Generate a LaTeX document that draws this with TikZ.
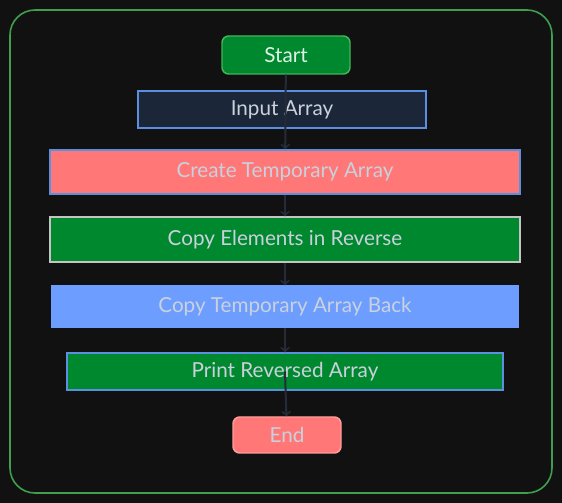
\documentclass[tikz,border=0pt]{standalone}
\usepackage{fontspec}
\setmainfont{Lato}
\usepackage{tikz}

\definecolor{bgdark}{HTML}{111111}
\definecolor{framegreen}{HTML}{3F9F4F}
\definecolor{boxgreen}{HTML}{00882F}
\definecolor{startedge}{HTML}{45B55A}
\definecolor{navy}{HTML}{1B2638}
\definecolor{edgeblue}{HTML}{5B8FE0}
\definecolor{salmon}{HTML}{FF7777}
\definecolor{salmonedge}{HTML}{FF9C9C}
\definecolor{skyblue}{HTML}{6D9EFF}
\definecolor{edgegrey}{HTML}{C4C4C4}
\definecolor{textgrey}{HTML}{C9D1DC}
\definecolor{linkdark}{HTML}{252B38}

\begin{document}
\begin{tikzpicture}[x=0.75pt, y=-0.75pt,
	box/.style={draw, line width=1.1pt, text=textgrey, inner sep=0pt,
		font=\fontsize{15.5}{18}\selectfont},
	link/.style={->, draw=linkdark, line width=1.5pt}]

	% ---- background and frame

	\fill[bgdark] (0,0) rectangle (562,503);
	\draw[framegreen, line width=1.2pt, rounded corners=18.75pt] (10,10) rectangle (552,493);

	% ---- nodes

	\node[box, fill=boxgreen, draw=startedge, rounded corners=5pt, text=white!88!boxgreen,
		minimum width=96pt, minimum height=28.5pt] (start) at (286,55) {Start};
	\node[box, fill=navy, draw=edgeblue,
		minimum width=216pt, minimum height=27.75pt] (input) at (282,109.5) {Input Array};
	\node[box, fill=salmon, draw=edgeblue,
		minimum width=352.5pt, minimum height=33pt] (create) at (285,172) {Create Temporary Array};
	\node[box, fill=boxgreen, draw=edgegrey,
		minimum width=352.5pt, minimum height=33.75pt] (copyrev) at (285,239.5) {Copy Elements in Reverse};
	\node[box, fill=skyblue, draw=skyblue,
		minimum width=349.5pt, minimum height=30.75pt] (copyback) at (285,306.5) {Copy Temporary Array Back};
	\node[box, fill=boxgreen, draw=edgeblue,
		minimum width=327pt, minimum height=27.75pt] (print) at (285,371.5) {Print Reversed Array};
	\node[box, fill=salmon, draw=salmonedge, rounded corners=5pt,
		minimum width=81pt, minimum height=27pt] (end) at (287,435) {End};

	% ---- links

	\draw[link] (start) -- (create);
	\draw[link] (create) -- (copyrev);
	\draw[link] (copyrev) -- (copyback);
	\draw[link] (copyback) -- (print);
	\draw[link] (print.center) -- (end);

\end{tikzpicture}
\end{document}
